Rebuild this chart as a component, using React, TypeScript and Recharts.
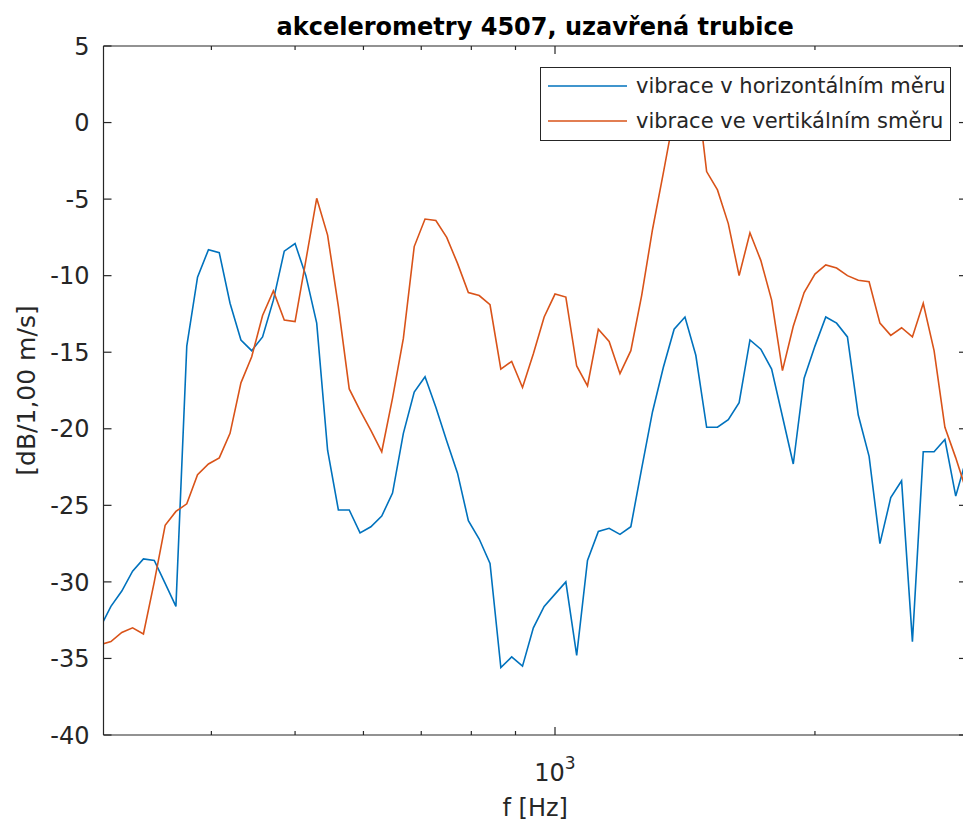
import React from 'react';
import { LineChart, Line, XAxis, YAxis, Legend, Label } from 'recharts';

// 1/24-octave band centres, Hz
const FREQS = [
  297.3, 306.0, 315.0, 324.2, 333.7, 343.5, 353.6, 363.9, 374.6, 385.5,
  396.9, 408.5, 420.4, 432.8, 445.4, 458.5, 471.9, 485.8, 500.0, 514.6,
  529.7, 545.3, 561.2, 577.7, 594.6, 612.0, 630.0, 648.4, 667.4, 687.0,
  707.1, 727.8, 749.2, 771.1, 793.7, 817.0, 840.9, 865.5, 890.9, 917.0,
  943.9, 971.5, 1000.0, 1029.3, 1059.5, 1090.5, 1122.5, 1155.3, 1189.2, 1224.1,
  1259.9, 1296.8, 1334.8, 1373.9, 1414.2, 1455.7, 1498.3, 1542.2, 1587.4, 1633.9,
  1681.8, 1731.1, 1781.8, 1834.0, 1887.7, 1943.1, 2000.0, 2058.6, 2118.9, 2181.0,
  2244.9, 2310.7, 2378.4, 2448.1, 2519.8, 2593.6, 2669.6, 2747.9, 2828.4, 2911.3,
  2996.6,
];

// vibrace v horizontálním měru, dB
const HORIZONTAL = [
  -33.0, -31.6, -30.6, -29.3, -28.5, -28.6, -30.1, -31.6, -14.6, -10.1,
  -8.3, -8.5, -11.8, -14.2, -14.9, -14.0, -11.6, -8.4, -7.9, -10.0,
  -13.1, -21.4, -25.3, -25.3, -26.8, -26.4, -25.7, -24.2, -20.3, -17.6,
  -16.6, -18.6, -20.8, -22.9, -26.0, -27.2, -28.8, -35.6, -34.9, -35.5,
  -33.0, -31.6, -30.8, -30.0, -34.8, -28.6, -26.7, -26.5, -26.9, -26.4,
  -22.6, -18.9, -16.0, -13.5, -12.7, -15.2, -19.9, -19.9, -19.4, -18.3,
  -14.2, -14.8, -16.1, -19.2, -22.3, -16.7, -14.6, -12.7, -13.1, -14.0,
  -19.1, -21.8, -27.5, -24.5, -23.4, -33.9, -21.5, -21.5, -20.7, -24.4,
  -21.9,
];

// vibrace ve vertikálním směru, dB
const VERTICAL = [
  -34.1, -33.9, -33.3, -33.0, -33.4, -30.0, -26.3, -25.4, -24.9, -23.0,
  -22.3, -21.9, -20.3, -17.0, -15.3, -12.6, -11.0, -12.9, -13.0, -9.0,
  -4.95, -7.35, -12.0, -17.4, -18.8, -20.1, -21.5, -18.0, -14.1, -8.1,
  -6.3, -6.4, -7.5, -9.2, -11.1, -11.3, -11.9, -16.1, -15.6, -17.3,
  -15.1, -12.7, -11.2, -11.4, -15.9, -17.2, -13.5, -14.3, -16.4, -14.9,
  -11.3, -7.0, -3.3, 0.5, 2.3, 2.8, -3.2, -4.4, -6.6, -10.0,
  -7.2, -9.0, -11.6, -16.2, -13.3, -11.1, -9.9, -9.3, -9.5, -10.0,
  -10.3, -10.4, -13.1, -13.9, -13.4, -14.0, -11.8, -14.9, -19.9, -21.9,
  -24.1,
];

const X_TICKS = [400, 500, 600, 700, 800, 900, 1000, 2000, 3000];
const X_LABELED = [1000];
const Y_TICKS = [-40, -35, -30, -25, -20, -15, -10, -5, 0, 5];

const AXIS = '#262626';
const FONT = '"DejaVu Sans", sans-serif';

const data = FREQS.map((f, i) => ({ f, h: HORIZONTAL[i], v: VERTICAL[i] }));

function XTick({ x, y, payload, top }: any) {
  const major = X_LABELED.includes(payload.value);
  const len = major ? 8 : 4;
  const dir = top ? 1 : -1;
  return (
    <g>
      <line x1={x} x2={x} y1={y} y2={y + dir * len} stroke={AXIS} strokeWidth={1.2} />
      {!top && major && (
        <text x={x} y={y + 46} textAnchor="middle" fill={AXIS} fontFamily={FONT} fontSize={24}>
          10<tspan dy={-12} fontSize={17}>3</tspan>
        </text>
      )}
    </g>
  );
}

function YTick({ x, y, payload, right }: any) {
  const dir = right ? -1 : 1;
  return (
    <g>
      <line x1={x} x2={x + dir * 8} y1={y} y2={y} stroke={AXIS} strokeWidth={1.2} />
      {!right && (
        <text x={x - 14} y={y} dy="0.36em" textAnchor="end" fill={AXIS} fontFamily={FONT} fontSize={24}>
          {payload.value}
        </text>
      )}
    </g>
  );
}

function LegendBox({ payload }: any) {
  return (
    <div
      style={{
        boxSizing: 'border-box',
        width: 411,
        height: 74,
        border: `1.2px solid ${AXIS}`,
        background: '#fff',
      }}
    >
      {(payload || []).map((p: any) => (
        <div key={p.value} style={{ display: 'flex', alignItems: 'center', height: 35.6 }}>
          <svg width={95} height={10} style={{ flex: 'none' }}>
            <line x1={7} x2={86} y1={5} y2={5} stroke={p.color} strokeWidth={1.6} />
          </svg>
          <span style={{ fontFamily: FONT, fontSize: 21, color: AXIS, whiteSpace: 'nowrap' }}>{p.value}</span>
        </div>
      ))}
    </div>
  );
}

const TitleLabel = ({ viewBox }: any) => (
  <text
    x={viewBox.x + viewBox.width / 2}
    y={35}
    textAnchor="middle"
    fontFamily={FONT}
    fontWeight="bold"
    fontSize={24}
    fill="#000"
  >
    akcelerometry 4507, uzavřená trubice
  </text>
);

const XLabel = ({ viewBox }: any) => (
  <text x={viewBox.x + viewBox.width / 2} y={viewBox.y + 81} textAnchor="middle" fontFamily={FONT} fontSize={24} fill={AXIS}>
    f [Hz]
  </text>
);

const YLabel = ({ viewBox }: any) => {
  const cx = viewBox.x + 35;
  const cy = viewBox.y + viewBox.height / 2;
  return (
    <text
      x={cx}
      y={cy}
      transform={`rotate(-90 ${cx} ${cy})`}
      textAnchor="middle"
      fontFamily={FONT}
      fontSize={25}
      fill={AXIS}
    >
      [dB/1,00 m/s]
    </text>
  );
};

export default function App() {
  return (
    <div style={{ position: 'absolute', left: 0, top: 0, width: 963, height: 823, overflow: 'hidden', background: '#fff' }}>
      <LineChart width={1000} height={823} data={data} margin={{ top: 45, right: 32, bottom: 0, left: 0 }}>
        <XAxis
          dataKey="f"
          type="number"
          scale="log"
          domain={[300, 3000]}
          allowDataOverflow
          ticks={X_TICKS}
          interval={0}
          height={88}
          tickSize={0}
          tickMargin={0}
          tickLine={false}
          axisLine={{ stroke: AXIS, strokeWidth: 1.2 }}
          tick={<XTick />}
        >
          <Label content={<XLabel />} />
        </XAxis>
        <XAxis
          xAxisId="top"
          dataKey="f"
          type="number"
          scale="log"
          orientation="top"
          domain={[300, 3000]}
          allowDataOverflow
          ticks={X_TICKS}
          interval={0}
          height={1}
          tickSize={0}
          tickMargin={0}
          tickLine={false}
          axisLine={{ stroke: AXIS, strokeWidth: 1.2 }}
          tick={<XTick top />}
        >
          <Label content={<TitleLabel />} />
        </XAxis>
        <YAxis
          type="number"
          domain={[-40, 5]}
          allowDataOverflow
          ticks={Y_TICKS}
          interval={0}
          width={103.5}
          tickSize={0}
          tickMargin={0}
          tickLine={false}
          axisLine={{ stroke: AXIS, strokeWidth: 1.2 }}
          tick={<YTick />}
        >
          <Label content={<YLabel />} />
        </YAxis>
        <YAxis
          yAxisId="right"
          orientation="right"
          type="number"
          domain={[-40, 5]}
          allowDataOverflow
          ticks={Y_TICKS}
          interval={0}
          width={1}
          tickSize={0}
          tickMargin={0}
          tickLine={false}
          axisLine={{ stroke: AXIS, strokeWidth: 1.2 }}
          tick={<YTick right />}
        />
        <Line
          name="vibrace v horizontálním měru"
          type="linear"
          dataKey="h"
          stroke="#0072BD"
          strokeWidth={1.6}
          dot={false}
          activeDot={false}
          isAnimationActive={false}
        />
        <Line
          name="vibrace ve vertikálním směru"
          type="linear"
          dataKey="v"
          xAxisId="top"
          yAxisId="right"
          stroke="#D95319"
          strokeWidth={1.6}
          dot={false}
          activeDot={false}
          isAnimationActive={false}
        />
        <Legend
          layout="vertical"
          align="center"
          verticalAlign="middle"
          content={<LegendBox />}
          wrapperStyle={{ left: 540, top: 67, width: 411, height: 74, margin: 0 }}
        />
      </LineChart>
    </div>
  );
}
